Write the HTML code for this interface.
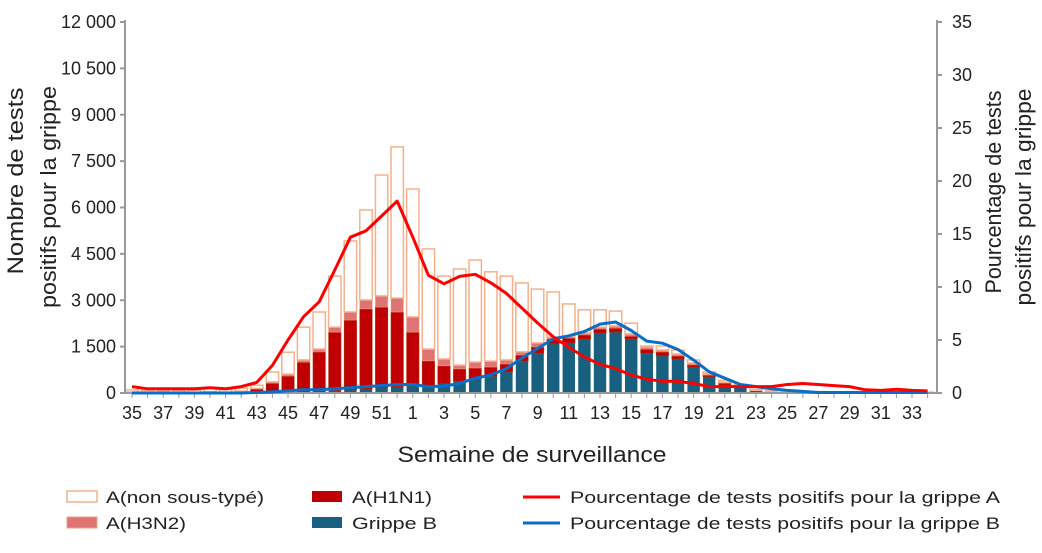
<!DOCTYPE html>
<html><head><meta charset="utf-8">
<style>
body{margin:0;background:#fff;font-family:"Liberation Sans",sans-serif;}
svg text{font-family:"Liberation Sans",sans-serif;fill:#222;}
</style></head>
<body>
<svg id="chart" width="1042" height="548" viewBox="0 0 1042 548" xmlns="http://www.w3.org/2000/svg"></svg>
<script>
const weeks = [35,36,37,38,39,40,41,42,43,44,45,46,47,48,49,50,51,52,1,2,3,4,5,6,7,8,9,10,11,12,13,14,15,16,17,18,19,20,21,22,23,24,25,26,27,28,29,30,31,32,33,34];
const fluB = [0,0,0,0,0,0,0,0,10,10,20,30,40,80,100,130,170,200,230,250,300,380,450,540,680,1030,1290,1590,1620,1750,1940,1970,1750,1290,1200,1100,840,520,260,170,70,30,20,20,10,10,5,5,0,0,0,0];
const h1n1 = [20,10,10,10,10,20,20,40,120,310,530,970,1290,1890,2260,2590,2610,2420,1740,790,580,400,360,300,260,200,200,160,160,130,130,130,90,130,130,100,70,60,60,40,10,10,10,10,10,5,5,5,5,5,5,5];
const h3n2 = [10,10,10,10,10,20,10,20,20,40,60,70,90,160,260,290,360,450,490,380,220,120,190,190,130,100,130,60,50,60,60,70,70,70,60,60,60,40,30,20,10,10,5,5,5,5,5,5,5,5,5,5];
const unsub = [70,60,50,60,70,130,80,100,100,320,710,1060,1200,1650,2300,2910,3910,4890,4140,3240,2680,3110,3300,2890,2710,2230,1740,1460,1050,750,560,480,350,30,130,130,100,60,60,40,20,20,20,20,20,20,15,15,15,15,15,15];
const pctA = [0.6,0.4,0.4,0.4,0.4,0.5,0.4,0.6,1.0,2.6,5.0,7.2,8.6,11.6,14.7,15.3,16.7,18.1,14.7,11.1,10.3,11.0,11.2,10.4,9.4,8.0,6.6,5.3,4.3,3.4,2.7,2.3,1.7,1.3,1.1,1.1,0.9,0.6,0.6,0.6,0.6,0.6,0.8,0.9,0.8,0.7,0.6,0.3,0.25,0.35,0.25,0.2];
const pctB = [0,0,0,0,0,0,0,0,0.05,0.1,0.2,0.3,0.3,0.4,0.5,0.6,0.7,0.8,0.8,0.6,0.65,0.9,1.4,1.7,2.3,3.3,4.2,5.1,5.4,5.8,6.5,6.7,5.9,4.9,4.7,4.1,3.1,2.0,1.4,0.8,0.6,0.4,0.25,0.15,0.05,0.05,0.05,0.05,0.05,0.05,0.05,0.05];
const leftTicks = [0,1500,3000,4500,6000,7500,9000,10500,12000];
const leftTickLabels = ["0","1 500","3 000","4 500","6 000","7 500","9 000","10 500","12 000"];
const rightTicks = [0,5,10,15,20,25,30,35];

const svg = document.getElementById('chart');
const NS = 'http://www.w3.org/2000/svg';
const X0 = 132, STEP = 15.6, Y0 = 393, YTOP = 22, LMAX = 12000, RMAX = 35;
const xS = i => X0 + i*STEP;
const yL = v => Y0 - v/LMAX*(Y0-YTOP);
const yR = v => Y0 - v/RMAX*(Y0-YTOP);
function mk(tag, attrs, parent){const e=document.createElementNS(NS,tag);for(const k in attrs)e.setAttribute(k,attrs[k]);(parent||svg).appendChild(e);return e;}

const bars = mk('g',{});


const BW = 12.4;
weeks.forEach((w,i)=>{
  const segs = [[fluB[i],'#17607f','none'],[h1n1[i],'#c00000','#b03010'],[h3n2[i],'#e07373','#e8a080'],[unsub[i],'#ffffff','#f4b08a']];
  let acc = 0;
  segs.forEach((s,j)=>{
    if(s[0]<=0) return;
    const y1=yL(acc), y2=yL(acc+s[0]);
    const r = mk('rect',{x:xS(i)-BW/2,y:y2,width:BW,height:Math.max(y1-y2,0.5),fill:s[1],stroke:s[2],'stroke-width':j==3?1.5:0.6},bars);
    
    
    acc += s[0];
  });
});

const ax = mk('g',{stroke:'#999','stroke-width':2});


mk('line',{x1:125,y1:YTOP-2,x2:125,y2:Y0},ax);
mk('line',{x1:937,y1:YTOP-2,x2:937,y2:Y0},ax);
mk('line',{x1:125,y1:Y0,x2:937,y2:Y0},ax);
leftTicks.forEach((t,i)=>{
  mk('line',{x1:120,y1:yL(t),x2:125,y2:yL(t)},ax);
  const tx = mk('text',{x:116,y:yL(t)+6,'text-anchor':'end','font-size':18});
  tx.textContent = leftTickLabels[i];
  
  
});
rightTicks.forEach(t=>{
  mk('line',{x1:937,y1:yR(t),x2:942,y2:yR(t)},ax);
  const tx = mk('text',{x:952,y:yR(t)+6,'font-size':18});
  tx.textContent = t;
  
  
});
weeks.forEach((w,i)=>{
  mk('line',{x1:xS(i),y1:Y0,x2:xS(i),y2:Y0+5,'stroke-width':1},ax);
  if(i%2===0){
    const tx = mk('text',{x:xS(i),y:419,'text-anchor':'middle','font-size':18});
    tx.textContent = w;
    
    
  }
});

function line(arr,color,name){
  const d = arr.map((v,i)=>(i?'L':'M')+xS(i).toFixed(1)+','+yR(v).toFixed(1)).join(' ');
  const p = mk('path',{d:d,fill:'none',stroke:color,'stroke-width':3,'stroke-linejoin':'round'});
  
  
}
line(pctB,'#0a6ec8','line-pct-grippe-b');
line(pctA,'#ff0000','line-pct-grippe-a');

function txt(s,x,y,size,attrs,name){const t=mk('text',Object.assign({x:x,y:y,'font-size':size},attrs||{}));t.textContent=s;return t;}
txt('Nombre de tests',23,181,22,{'text-anchor':'middle',textLength:187,lengthAdjust:'spacingAndGlyphs',transform:'rotate(-90 23 181)'},'y-left-title');
txt('positifs pour la grippe',56,197,22,{'text-anchor':'middle',textLength:222,lengthAdjust:'spacingAndGlyphs',transform:'rotate(-90 56 197)'},'y-left-title');
txt('Pourcentage de tests',1001,192,22,{'text-anchor':'middle',textLength:203,lengthAdjust:'spacingAndGlyphs',transform:'rotate(-90 1001 192)'},'y-right-title');
txt('positifs pour la grippe',1031,197,22,{'text-anchor':'middle',textLength:217,lengthAdjust:'spacingAndGlyphs',transform:'rotate(-90 1031 197)'},'y-right-title');
txt('Semaine de surveillance',532,462,22,{'text-anchor':'middle',textLength:269,lengthAdjust:'spacingAndGlyphs'},'x-axis-title');

const lg = mk('g',{});


mk('rect',{x:67,y:491,width:30,height:11,fill:'#fff',stroke:'#f4b08a','stroke-width':1.5},lg);
txt('A(non sous-typé)',106,503,17,{textLength:158,lengthAdjust:'spacingAndGlyphs'},'legend-non-sous-type');
mk('rect',{x:67,y:517,width:30,height:11,fill:'#e07373',stroke:'#e8a080'},lg);
txt('A(H3N2)',106,529,17,{textLength:80,lengthAdjust:'spacingAndGlyphs'},'legend-h3n2');
mk('rect',{x:312,y:491,width:30,height:11,fill:'#c00000'},lg);
txt('A(H1N1)',352,503,17,{textLength:80,lengthAdjust:'spacingAndGlyphs'},'legend-h1n1');
mk('rect',{x:312,y:517,width:30,height:11,fill:'#17607f'},lg);
txt('Grippe B',352,529,17,{textLength:85,lengthAdjust:'spacingAndGlyphs'},'legend-grippe-b');
mk('line',{x1:523,y1:497,x2:560,y2:497,stroke:'#ff0000','stroke-width':3},lg);
txt('Pourcentage de tests positifs pour la grippe A',570,503,17,{textLength:430,lengthAdjust:'spacingAndGlyphs'},'legend-pct-a');
mk('line',{x1:523,y1:523,x2:560,y2:523,stroke:'#0a6ec8','stroke-width':3},lg);
txt('Pourcentage de tests positifs pour la grippe B',570,529,17,{textLength:430,lengthAdjust:'spacingAndGlyphs'},'legend-pct-b');
</script>
</body></html>
